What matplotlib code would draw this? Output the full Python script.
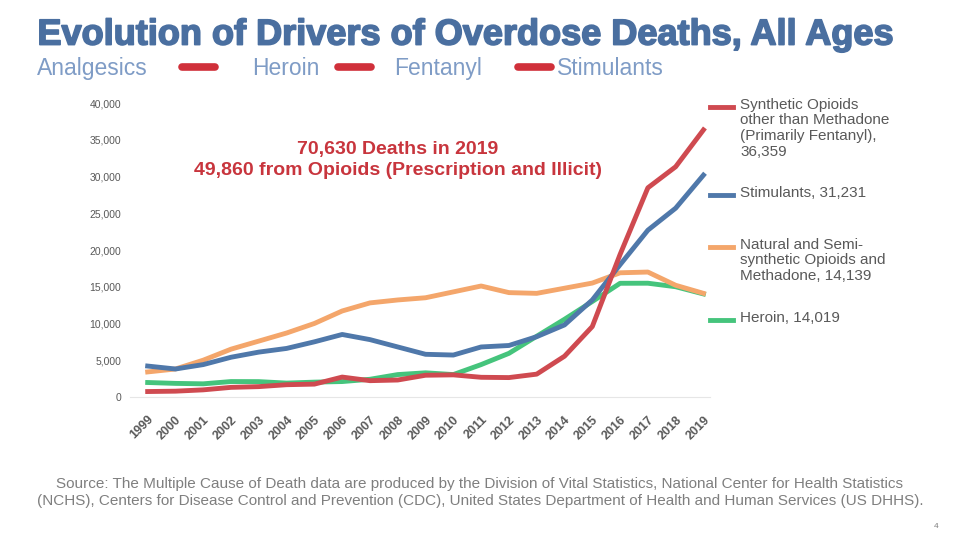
import matplotlib
matplotlib.use("Agg")
import matplotlib.pyplot as plt
import matplotlib.patheffects as pe
from matplotlib.lines import Line2D

plt.rcParams['font.family'] = ['Liberation Sans', 'DejaVu Sans']

# data (deaths per year)
years = list(range(1999, 2020))
synthetic = [730, 780, 960, 1300, 1400, 1660, 1740, 2700, 2210, 2300, 2950,
             3000, 2670, 2630, 3100, 5540, 9580, 19400, 28470, 31340, 36360]
stimulants = [4200, 3800, 4400, 5400, 6100, 6600, 7500, 8500, 7800, 6800, 5800,
              5700, 6800, 7000, 8200, 9800, 13200, 18000, 22700, 25700, 30200]
natural = [3400, 3800, 5000, 6500, 7600, 8700, 10000, 11700, 12800, 13200, 13500,
           14300, 15100, 14200, 14100, 14800, 15500, 16900, 17000, 15200, 14100]
heroin = [1960, 1840, 1780, 2090, 2080, 1880, 2010, 2090, 2400, 3040, 3280,
          3040, 4400, 5930, 8260, 10570, 12990, 15470, 15480, 15000, 14020]

series_labels = ["Synthetic Opioids\nother than Methadone\n(Primarily Fentanyl),\n36,359",
                 "Stimulants, 31,231",
                 "Natural and Semi-\nsynthetic Opioids and\nMethadone, 14,139",
                 "Heroin, 14,019"]
colors = ['#cf4a50', '#4f78aa', '#f4a66b', '#45c47c']
yticks = [0, 5000, 10000, 15000, 20000, 25000, 30000, 35000, 40000]

fig = plt.figure(figsize=(9.6, 5.4), dpi=100)
ax = fig.add_axes([0.135, 0.265, 0.605, 0.544])

ax.plot(years, heroin, color=colors[3], lw=3.5)
ax.plot(years, natural, color=colors[2], lw=3.5)
ax.plot(years, stimulants, color=colors[1], lw=3.5)
ax.plot(years, synthetic, color=colors[0], lw=3.5)

ax.set_ylim(0, 40000)
ax.set_xlim(1998.35, 2019.25)
ax.set_yticks(yticks)
ax.set_yticklabels(['0' if v == 0 else f'{v:,}' for v in yticks], fontsize=7.5, color='#595959')
ax.set_xticks(years)
ax.set_xticklabels([str(y) for y in years], rotation=45, ha='right', rotation_mode='anchor',
                   fontsize=9, color='#595959', fontweight='bold')
for s in ['top', 'right', 'left']:
    ax.spines[s].set_visible(False)
ax.spines['bottom'].set_color('#e6e6e6')
ax.tick_params(axis='y', length=0, pad=6)
ax.tick_params(axis='x', length=0, pad=12)

ax.text(2008.0, 32300, "70,630 Deaths in 2019\n49,860 from Opioids (Prescription and Illicit)",
        ha='center', va='center', color='#c8353d', fontsize=14, fontweight='bold', linespacing=1.3)

# title and subtitle
fig.text(0.039, 0.935, "Evolution of Drivers of Overdose Deaths, All Ages", fontsize=26,
         fontweight='bold', color='#4a6fa0', va='center',
         path_effects=[pe.withStroke(linewidth=1.2, foreground='#4a6fa0')])
sub_color = '#7f9cc6'
fig.text(0.039, 0.874, "Analgesics", fontsize=16.5, color=sub_color, va='center')
fig.text(0.263, 0.874, "Heroin", fontsize=16.5, color=sub_color, va='center')
fig.text(0.411, 0.874, "Fentanyl", fontsize=16.5, color=sub_color, va='center')
fig.text(0.580, 0.874, "Stimulants", fontsize=16.5, color=sub_color, va='center')
for x0 in [0.190, 0.352, 0.540]:
    fig.add_artist(Line2D([x0, x0 + 0.034], [0.876, 0.876], color='#d0303a', lw=5.5,
                          solid_capstyle='round', transform=fig.transFigure))

# side legend
leg_y = [0.802, 0.638, 0.543, 0.408]
for lab, c, y in zip(series_labels, colors, leg_y):
    fig.add_artist(Line2D([0.740, 0.764], [y, y], color=c, lw=3.5, transform=fig.transFigure))
    fig.text(0.771, y + 0.017, lab, fontsize=11, color='#595959', va='top', linespacing=1.15)

fig.text(0.5, 0.088, "Source: The Multiple Cause of Death data are produced by the Division of Vital Statistics, National Center for Health Statistics\n"
         "(NCHS), Centers for Disease Control and Prevention (CDC), United States Department of Health and Human Services (US DHHS).",
         ha='center', va='center', fontsize=11, color='#7f7f7f', linespacing=1.2)
fig.text(0.978, 0.022, "4", fontsize=6, color='#7f7f7f', ha='right')

fig.savefig("out.png", dpi=100, facecolor='white')
